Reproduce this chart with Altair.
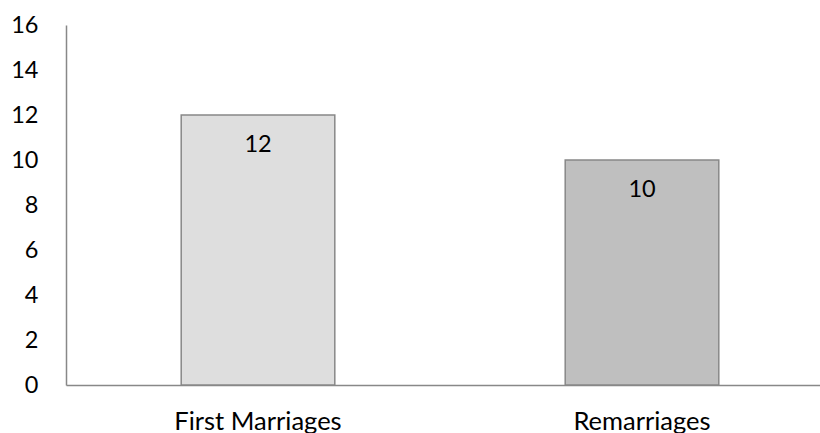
import altair as alt
import pandas as pd

categories = ["First Marriages", "Remarriages"]
values = [12, 10]
fills = ["#dedede", "#bfbfbf"]

df = pd.DataFrame({"category": categories, "value": values, "fill": fills})

FONT = "Lato"

base = alt.Chart(df).encode(
    x=alt.X(
        "category:N",
        sort=categories,
        title=None,
        scale=alt.Scale(range=[0, 768], paddingInner=0.6, paddingOuter=0.3),
        axis=alt.Axis(
            labelAngle=0, ticks=False, tickSize=0, labelPadding=24,
            labelFontSize=25.5, labelFont=FONT, labelColor="#000000",
            domainColor="#888888", domainWidth=1.5, grid=False,
        ),
    ),
    y=alt.Y(
        "value:Q",
        title=None,
        scale=alt.Scale(domain=[0, 16], nice=False),
        axis=alt.Axis(
            values=[0, 2, 4, 6, 8, 10, 12, 14, 16], ticks=False, tickSize=0,
            labelPadding=28, labelFontSize=23.5, labelFont=FONT,
            labelColor="#000000", domainColor="#888888", domainWidth=1.5,
            grid=False,
        ),
    ),
)

bars = base.mark_bar(stroke="#888888", strokeWidth=1.5).encode(
    fill=alt.Fill("fill:N", scale=None)
)

labels = base.mark_text(
    baseline="middle", dy=30, fontSize=23.5, font=FONT, color="#000000"
).encode(text="value:Q")

chart = (
    (bars + labels)
    .properties(
        width=754,
        height=360,
        autosize=alt.AutoSizeParams(type="none"),
        padding={"left": 66, "top": 25, "right": 0, "bottom": 48},
        view=alt.ViewBackground(stroke="transparent", strokeWidth=0),
    )
    .configure_view(strokeWidth=0, stroke="transparent")
    .configure_axis(grid=False)
    .configure(background="#ffffff")
)

chart.save("out.html", embed_options={"renderer": "svg", "actions": False})
